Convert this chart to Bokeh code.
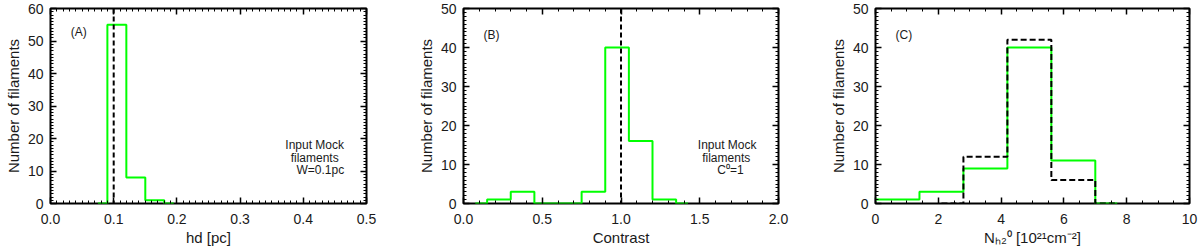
from bokeh.plotting import figure
from bokeh.models import Range1d, LinearAxis, SingleIntervalTicker, PrintfTickFormatter, Span, Label
from bokeh.layouts import row
from bokeh.embed import file_html
from bokeh.resources import INLINE

# ---------------- data ----------------
# Panel A : hd [pc]
a_edges = [0.075, 0.09, 0.12, 0.15, 0.18, 0.195]
a_counts = [0, 55, 8, 1, 0]
a_input_w = 0.1

# Panel B : contrast
b_edges = [0.075, 0.15, 0.30, 0.45, 0.60, 0.75, 0.90, 1.05, 1.20, 1.35, 1.425]
b_counts = [0, 1, 3, 0, 0, 3, 40, 16, 1, 0]
b_input_c = 1.0

# Panel C : N_H2^0 [1e21 cm^-2]
c_edges_meas = [0.0, 1.4, 2.8, 4.2, 5.6, 7.0, 7.7]
c_counts_meas = [1, 3, 9, 40, 11, 0]
c_edges_input = [2.1, 2.8, 4.2, 5.6, 7.0, 7.7]
c_counts_input = [0, 12, 42, 6, 0]

x_titles = ["hd [pc]", "Contrast", "N\u2095\u2082\u2070 [10\u00b2\u00b9cm\u207b\u00b2]"]
y_title = "Number of filaments"

FONT = "Liberation Sans"
TXT = "#1a1a1a"
GREEN = "#00ff00"
FH = 195


def stairs(edges, counts):
    xs, ys = [], []
    for i, c in enumerate(counts):
        xs += [edges[i], edges[i + 1]]
        ys += [c, c]
    return xs, ys


def style_axis(ax, labels=True):
    ax.axis_line_color = None
    ax.major_tick_in = 6
    ax.major_tick_out = 0
    ax.minor_tick_in = 3
    ax.minor_tick_out = 0
    ax.major_tick_line_width = 1.5
    ax.minor_tick_line_width = 1
    ax.major_tick_line_color = "black"
    ax.minor_tick_line_color = "black"
    ax.major_label_text_font = FONT
    ax.major_label_text_color = TXT
    ax.axis_label_text_font = FONT
    ax.axis_label_text_font_size = "15px"
    ax.axis_label_text_font_style = "normal"
    ax.axis_label_text_color = TXT
    if labels:
        ax.major_label_text_font_size = "14px"
    else:
        ax.major_label_text_font_size = "0px"
        ax.major_label_standoff = 0


def make_fig(xr, yr, xint, xminor, xfmt, left, right, fw, xlabel):
    p = figure(frame_width=fw, frame_height=FH, x_range=Range1d(*xr), y_range=Range1d(*yr),
               output_backend="svg", toolbar_location=None,
               min_border_left=left, min_border_right=right, min_border_top=8, min_border_bottom=48,
               x_axis_type=None, y_axis_type=None)
    p.outline_line_color = "black"
    p.outline_line_width = 2
    p.background_fill_color = "white"
    p.border_fill_color = "white"
    xt = SingleIntervalTicker(interval=xint, num_minor_ticks=xminor)
    yt = SingleIntervalTicker(interval=10, num_minor_ticks=10)
    bottom = LinearAxis(ticker=xt, formatter=PrintfTickFormatter(format=xfmt), axis_label=xlabel)
    style_axis(bottom)
    bottom.major_label_standoff = 10
    bottom.axis_label_standoff = 2
    lft = LinearAxis(ticker=yt, axis_label=y_title)
    style_axis(lft)
    lft.major_label_standoff = 7
    lft.axis_label_standoff = 3
    top = LinearAxis(ticker=xt, formatter=PrintfTickFormatter(format=""))
    style_axis(top, labels=False)
    rgt = LinearAxis(ticker=yt, formatter=PrintfTickFormatter(format=""))
    style_axis(rgt, labels=False)
    p.add_layout(bottom, "below")
    p.add_layout(lft, "left")
    p.add_layout(top, "above")
    p.add_layout(rgt, "right")
    return p


def add_text(p, x, y, text, size="12px", align="center", baseline="middle"):
    p.add_layout(Label(x=x, y=y, text=text, text_font=FONT, text_font_size=size,
                       text_color=TXT, text_align=align, text_baseline=baseline))


# ---------------- Panel A ----------------
pa = make_fig((0, 0.5), (0, 60), 0.1, 10, "%.1f", 50, 34, 316, x_titles[0])
xs, ys = stairs(a_edges, a_counts)
pa.line(xs, ys, line_color=GREEN, line_width=2)
pa.add_layout(Span(location=a_input_w, dimension="height", line_color="black",
                   line_width=2, line_dash="5 3"))
add_text(pa, 0.032, 52.7, "(A)", align="left")
add_text(pa, 0.418, 18.0, "Input Mock")
add_text(pa, 0.418, 14.0, "filaments")
add_text(pa, 0.427, 10.4, "W=0.1pc")

# ---------------- Panel B ----------------
pb = make_fig((0, 2.0), (0, 50), 0.5, 5, "%.1f", 63, 22, 315, x_titles[1])
xs, ys = stairs(b_edges, b_counts)
pb.line(xs, ys, line_color=GREEN, line_width=2)
pb.add_layout(Span(location=b_input_c, dimension="height", line_color="black",
                   line_width=2, line_dash="5 3"))
add_text(pb, 0.127, 43.3, "(B)", align="left")
add_text(pb, 1.674, 15.0, "Input Mock")
add_text(pb, 1.668, 11.6, "filaments")
add_text(pb, 1.695, 8.5, "C\u2070=1")

# ---------------- Panel C ----------------
pc = make_fig((0, 10), (0, 50), 2, 4, "%d", 75, 11, 314, x_titles[2])
xs, ys = stairs(c_edges_meas, c_counts_meas)
pc.line(xs, ys, line_color=GREEN, line_width=2)
xs, ys = stairs(c_edges_input, c_counts_input)
pc.line(xs, ys, line_color="black", line_width=2, line_dash="6 3")
add_text(pc, 0.64, 43.3, "(C)", align="left")

layout = row(pa, pb, pc, styles={"position": "absolute", "left": "0px", "top": "0px"})
open("out.html", "w").write(file_html(layout, INLINE))
